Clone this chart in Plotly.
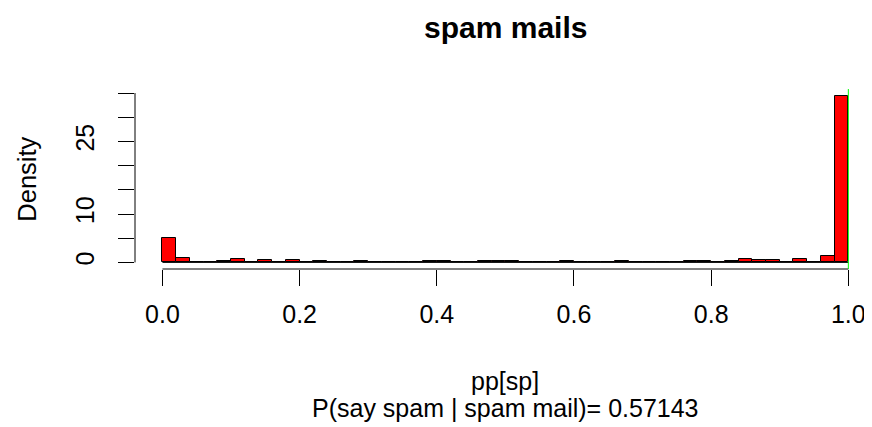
import numpy as np
import plotly.graph_objects as go

# histogram of pp[sp], 50 bins of width 0.02 on [0, 1], density
bin_edges = np.linspace(0, 1, 51)
density = [5.0, 1.0, 0.0, 0.15, 0.2, 0.8, 0.15, 0.55, 0.15, 0.4,
           0.05, 0.3, 0.0, 0.05, 0.2, 0.05, 0.05, 0.05, 0.0, 0.2,
           0.2, 0.0, 0.0, 0.2, 0.2, 0.25, 0.05, 0.05, 0.0, 0.25,
           0.15, 0.15, 0.05, 0.2, 0.0, 0.05, 0.05, 0.0, 0.2, 0.2,
           0.05, 0.2, 0.7, 0.4, 0.4, 0.0, 0.8, 0.0, 1.25, 34.3]
threshold = 1.0

x_ticks = [0.0, 0.2, 0.4, 0.6, 0.8, 1.0]
x_labels = ["0.0", "0.2", "0.4", "0.6", "0.8", "1.0"]
y_ticks = [0, 5, 10, 15, 20, 25, 30, 35]
y_labels = ["0", "", "10", "", "", "25", "", ""]

FONT = "Liberation Sans, Arial, sans-serif"

centers = (bin_edges[:-1] + bin_edges[1:]) / 2
widths = np.diff(bin_edges)

fig = go.Figure()
fig.add_trace(go.Bar(x=centers, y=density, width=widths,
                     marker=dict(color="#ff0000", line=dict(color="black", width=1)),
                     showlegend=False))

# the page body has an 8px margin, so the margins are shifted by 8px
fig.update_layout(
    width=872, height=427,
    margin=dict(l=127, r=8, t=81, b=166, autoexpand=False),
    plot_bgcolor="white", paper_bgcolor="white",
    font=dict(family=FONT, size=25, color="black"),
    bargap=0,
    xaxis=dict(range=[-0.04, 1.0345], tickvals=x_ticks, ticktext=x_labels,
               ticks="outside", ticklen=16, tickwidth=1, tickcolor="black",
               showline=False, showgrid=False, zeroline=False, automargin=False,
               ticklabelstandoff=7, tickfont=dict(size=25)),
    yaxis=dict(range=[-1.36, 35.83], tickvals=y_ticks, ticktext=y_labels,
               tickangle=-90, ticks="outside", ticklen=16, tickwidth=1,
               tickcolor="black", showline=False, showgrid=False, zeroline=False,
               automargin=False, ticklabelstandoff=14, tickfont=dict(size=25)),
)

# axis lines only over the tick span, like base R
fig.add_shape(type="line", xref="paper", yref="y", x0=0, x1=0,
              y0=y_ticks[0], y1=y_ticks[-1], line=dict(color="black", width=1))
fig.add_shape(type="line", xref="x", yref="paper", x0=x_ticks[0], x1=x_ticks[-1],
              y0=0, y1=0, line=dict(color="black", width=1))
# histogram baseline
fig.add_shape(type="line", xref="x", yref="y", x0=bin_edges[0], x1=bin_edges[-1],
              y0=0, y1=0, line=dict(color="black", width=1))
# threshold line
fig.add_shape(type="line", xref="x", yref="paper", x0=threshold, x1=threshold,
              y0=0, y1=1, line=dict(color="#00ff00", width=1))

fig.add_annotation(text="<b>spam mails</b>", xref="x", yref="paper", x=0.5, y=1.343,
                   xanchor="center", yanchor="middle", showarrow=False,
                   font=dict(size=30))
fig.add_annotation(text="Density", xref="paper", yref="paper", x=-0.147, y=0.5,
                   xanchor="center", yanchor="middle", textangle=-90,
                   showarrow=False, font=dict(size=25.5))
fig.add_annotation(text="pp[sp]", xref="x", yref="paper", x=0.5, y=-0.62,
                   xanchor="center", yanchor="middle", showarrow=False,
                   font=dict(size=25))
fig.add_annotation(text="P(say spam | spam mail)= 0.57143", xref="x", yref="paper",
                   x=0.5, y=-0.77, xanchor="center", yanchor="middle",
                   showarrow=False, font=dict(size=25))

fig.write_html("out.html")
